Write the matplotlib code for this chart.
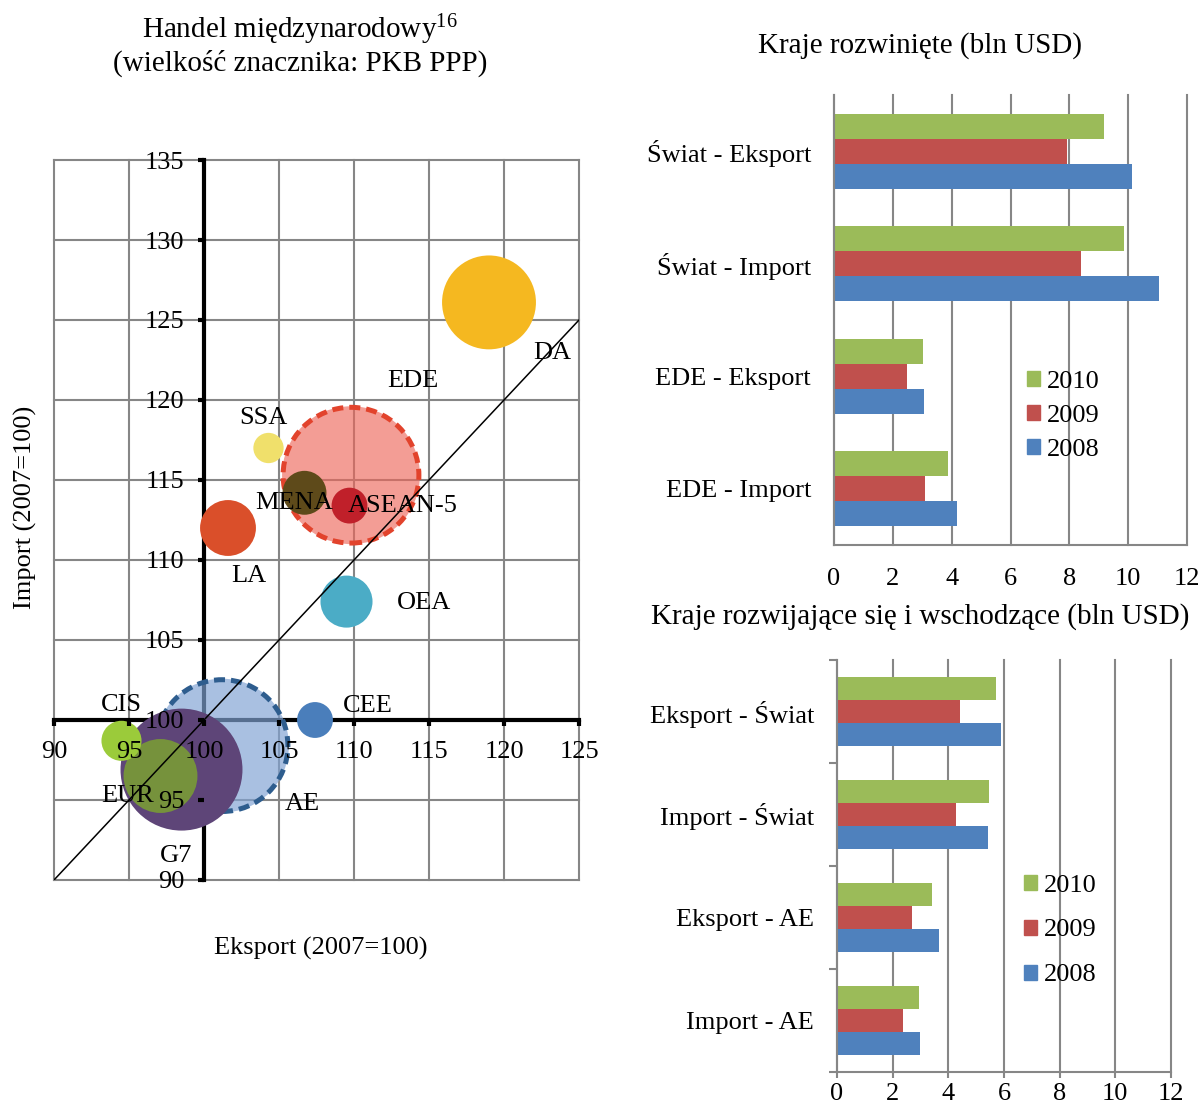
import matplotlib
matplotlib.use('Agg')
import matplotlib.pyplot as plt
import numpy as np
from matplotlib.patches import Patch

plt.rcParams['font.family'] = ['Liberation Serif', 'DejaVu Serif']
plt.rcParams['mathtext.fontset'] = 'custom'
plt.rcParams['mathtext.rm'] = 'Liberation Serif'
plt.rcParams['mathtext.it'] = 'Liberation Serif:italic'

# ---------------- data ----------------
regions = ['AE', 'EDE', 'DA', 'G7', 'EUR', 'CIS', 'CEE', 'LA', 'OEA', 'SSA', 'MENA', 'ASEAN-5']
export_idx = [101.2, 109.8, 119.0, 98.5, 97.1, 94.5, 107.4, 101.6, 109.5, 104.3, 106.7, 109.7]
import_idx = [98.4, 115.3, 126.1, 96.9, 96.5, 98.7, 100.0, 112.0, 107.4, 117.0, 114.2, 113.4]
gdp_ppp = [39.0, 41.4, 19.2, 32.4, 11.9, 3.5, 2.8, 6.8, 5.9, 2.0, 4.2, 2.8]

x_ticks = [90, 95, 100, 105, 110, 115, 120, 125]
y_ticks = [90, 95, 100, 105, 110, 115, 120, 125, 130, 135]

years = ['2010', '2009', '2008']
cats_dev = ['Świat - Eksport', 'Świat - Import', 'EDE - Eksport', 'EDE - Import']
dev_2010 = [9.18, 9.86, 3.01, 3.89]
dev_2009 = [7.93, 8.38, 2.47, 3.10]
dev_2008 = [10.12, 11.05, 3.05, 4.18]

cats_em = ['Eksport - Świat', 'Import - Świat', 'Eksport - AE', 'Import - AE']
em_2010 = [5.71, 5.47, 3.43, 2.93]
em_2009 = [4.41, 4.29, 2.70, 2.37]
em_2008 = [5.89, 5.43, 3.68, 2.97]
bar_ticks = [0, 2, 4, 6, 8, 10, 12]

# ---------------- styles ----------------
FS = 19
TFS = 21
GRID = '#868686'
SIZE = 238.0  # points^2 per GDP unit
bubble_style = {
    'AE':      dict(fc=(0.50, 0.64, 0.83, 0.68), ec='#2E5D8E'),
    'EDE':     dict(fc=(0.93, 0.40, 0.35, 0.64), ec='#E2432C'),
    'DA':      dict(fc='#F5B820'),
    'G7':      dict(fc='#5E4578'),
    'EUR':     dict(fc='#76923C'),
    'CIS':     dict(fc='#9BCB3A'),
    'CEE':     dict(fc='#4A7EBB'),
    'LA':      dict(fc='#DA4F2A'),
    'OEA':     dict(fc='#4BACC6'),
    'SSA':     dict(fc='#F0E06B'),
    'MENA':    dict(fc='#5E4A1A'),
    'ASEAN-5': dict(fc='#C0202A'),
}
label_offset_px = {
    'DA': (63, -51), 'EDE': (62, 94), 'SSA': (-5, 30), 'MENA': (-10, -10),
    'ASEAN-5': (53, 0), 'LA': (21, -48), 'OEA': (77, -1), 'CEE': (53, 14),
    'CIS': (0, 36), 'EUR': (-33, -20), 'AE': (80, -58), 'G7': (-5, -86),
}

W, H = 1203, 1113
fig = plt.figure(figsize=(W / 100, H / 100), dpi=100)

# ---------------- bubble chart ----------------
ax = fig.add_axes([54 / W, 1 - 880 / H, 525 / W, 720 / H])
ax.set_xlim(x_ticks[0], x_ticks[-1])
ax.set_ylim(y_ticks[0], y_ticks[-1])
for v in x_ticks:
    ax.axvline(v, color=GRID, lw=1.5, zorder=0.5, clip_on=False)
for v in y_ticks:
    ax.axhline(v, color=GRID, lw=1.5, zorder=0.5, clip_on=False)

ax.spines['top'].set_visible(False)
ax.spines['right'].set_visible(False)
ax.spines['left'].set_position(('data', 100))
ax.spines['bottom'].set_position(('data', 100))
for sp in ['left', 'bottom']:
    ax.spines[sp].set_linewidth(3)
    ax.spines[sp].set_color('black')
    ax.spines[sp].set_zorder(1.5)
ax.set_axisbelow(False)
ax.set_xticks(x_ticks)
ax.set_yticks(y_ticks)
ax.tick_params(direction='out', length=4, width=3, labelsize=FS)
ax.tick_params(axis='x', pad=11)
ax.tick_params(axis='y', pad=10)

for i, name in enumerate(regions):
    st = bubble_style[name]
    z = 2 + i * 0.01
    ax.scatter(export_idx[i], import_idx[i], s=gdp_ppp[i] * SIZE,
               facecolors=[st['fc']], edgecolors='none', zorder=z)
    if 'ec' in st:
        ax.scatter(export_idx[i], import_idx[i], s=gdp_ppp[i] * SIZE * 0.97,
                   facecolors='none', edgecolors=st['ec'], linewidths=3.6,
                   linestyles=(0, (2.2, 1.2)), zorder=z + 0.001)
    dx, dy = label_offset_px[name]
    ax.annotate(name, (export_idx[i], import_idx[i]), xytext=(dx, dy),
                textcoords='offset pixels', ha='center', va='center',
                fontsize=FS, zorder=3)

ax.axline((100, 100), slope=1, color='black', lw=1.1, zorder=2.45)

fig.text(300 / W, 1 - 30 / H, 'Handel międzynarodowy$^{16}$', ha='center', va='center', fontsize=TFS)
fig.text(300 / W, 1 - 63 / H, '(wielkość znacznika: PKB PPP)', ha='center', va='center', fontsize=TFS)
fig.text(25 / W, 1 - 507 / H, 'Import (2007=100)', rotation=90, ha='center', va='center', fontsize=FS)
fig.text(321 / W, 1 - 948 / H, 'Eksport (2007=100)', ha='center', va='center', fontsize=FS)

# ---------------- bar charts ----------------
bar_colors = ['#9BBB59', '#C0504D', '#4F81BD']


def bar_chart(rect, cats, series, with_ticks):
    bx = fig.add_axes(rect)
    h = 1 / 4.5
    y = np.arange(len(cats))
    for k, (vals, col) in enumerate(zip(series, bar_colors)):
        bx.barh(y + (k - 1) * h, vals, height=h, color=col, zorder=2)
    bx.set_ylim(len(cats) - 0.5, -0.5)
    bx.set_xlim(bar_ticks[0], bar_ticks[-1])
    bx.set_xticks(bar_ticks)
    bx.set_yticks(y)
    bx.set_yticklabels(cats)
    bx.set_axisbelow(True)
    bx.xaxis.grid(True, color=GRID, lw=1.5)
    for l in bx.get_xgridlines():
        l.set_clip_on(False)
    bx.spines['top'].set_visible(False)
    bx.spines['right'].set_visible(False)
    for sp in ['left', 'bottom']:
        bx.spines[sp].set_color(GRID)
        bx.spines[sp].set_linewidth(1.5)
    bx.tick_params(axis='y', length=0, labelsize=FS, pad=16.5)
    if with_ticks:
        bx.tick_params(axis='x', length=4, width=1.5, color=GRID, labelsize=FS, pad=4)
        bx.set_yticks(np.arange(len(cats) + 1) - 0.5, minor=True)
        bx.tick_params(axis='y', which='minor', length=6, width=1.5, color=GRID)
    else:
        bx.tick_params(axis='x', length=0, labelsize=FS, pad=16.5)
    return bx


ax1 = bar_chart([834 / W, 1 - 545 / H, 353 / W, 450 / H], cats_dev,
                [dev_2010, dev_2009, dev_2008], False)
ax2 = bar_chart([837 / W, 1 - 1072 / H, 334 / W, 412 / H], cats_em,
                [em_2010, em_2009, em_2008], True)

handles = [Patch(color=c) for c in bar_colors]
ax1.legend(handles, years, loc='center left', bbox_to_anchor=(1027 / W, 1 - 416 / H),
           bbox_transform=fig.transFigure, frameon=False, fontsize=FS,
           handlelength=0.5, handleheight=0.5, handletextpad=0.25,
           labelspacing=0.45, borderpad=0, borderaxespad=0)
ax2.legend(handles, years, loc='center left', bbox_to_anchor=(1024 / W, 1 - 930.5 / H),
           bbox_transform=fig.transFigure, frameon=False, fontsize=FS,
           handlelength=0.5, handleheight=0.5, handletextpad=0.25,
           labelspacing=0.87, borderpad=0, borderaxespad=0)

fig.text(920 / W, 1 - 46 / H, 'Kraje rozwinięte (bln USD)', ha='center', va='center', fontsize=TFS)
fig.text(920 / W, 1 - 617 / H, 'Kraje rozwijające się i wschodzące (bln USD)', ha='center', va='center', fontsize=TFS)

fig.savefig('out.png', dpi=100)
